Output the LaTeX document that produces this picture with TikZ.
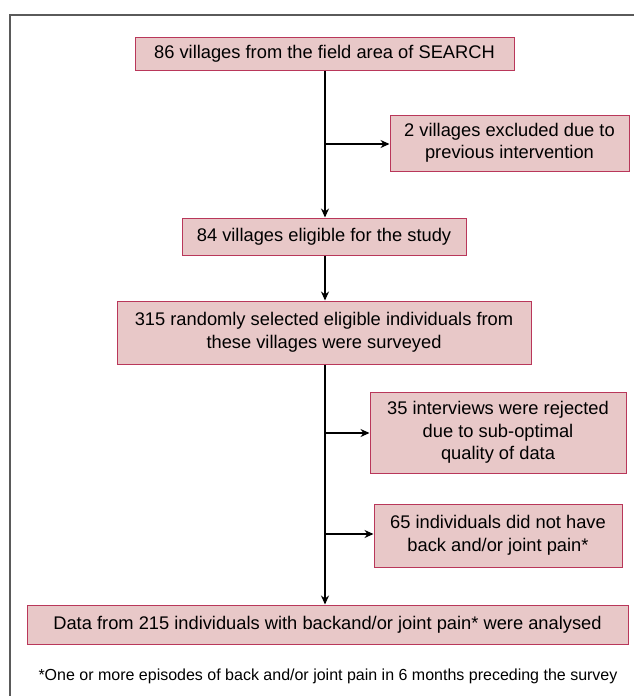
\documentclass[tikz,border=0pt]{standalone}
\usepackage{fontspec}
\setmainfont{Liberation Sans}
\usetikzlibrary{arrows.meta}
\definecolor{boxfill}{RGB}{232,200,200}
\definecolor{boxline}{RGB}{185,55,90}
\definecolor{frameline}{RGB}{90,90,90}

\begin{document}
\begin{tikzpicture}[x=1pt, y=-1pt,
  box/.style={draw=boxline, fill=boxfill, line width=1pt, align=center,
    inner sep=0pt, font=\fontsize{18.3}{22.5}\selectfont},
  flow/.style={line width=1.4pt, -{Stealth[length=9pt,width=8pt]}}]
 \useasboundingbox (0,0) rectangle (634,696);
 \draw[frameline, line width=1.6pt] (10,696) -- (10,15) -- (634,15);
 \node (villages) [box, minimum width=379pt, minimum height=33pt] at (324.5,53.5) {86 villages from the field area of SEARCH};
 \node (excluded) [box, minimum width=239pt, minimum height=56pt] at (509.5,143) {2 villages excluded due to\\previous intervention};
 \node (eligible) [box, minimum width=284pt, minimum height=37pt] at (324,236.5) {84 villages eligible for the study};
 \node (surveyed) [box, minimum width=414pt, minimum height=63pt] at (324,332.5) {315 randomly selected eligible individuals from\\these villages were surveyed};
 \node (rejected) [box, minimum width=256pt, minimum height=81pt] at (498,432.5) {35 interviews were rejected\\due to sub-optimal\\quality of data};
 \node (nopain) [box, minimum width=248pt, minimum height=63pt] at (498,535.5) {65 individuals did not have\\back and/or joint pain*};
 \node (analysed) [box, minimum width=601pt, minimum height=39pt] at (327.5,624.5) {Data from 215 individuals with backand/or joint pain* were analysed};
 \node (note) [font=\fontsize{16}{18}\selectfont] at (328,676) {*One or more episodes of back and/or joint pain in 6 months preceding the survey};
 \coordinate (b1) at (325,144);
 \coordinate (b2) at (325,433);
 \coordinate (b3) at (325,534);
 \draw[flow] (villages.south -| b1) -- (eligible.north -| b1);
 \draw[flow] (b1) -- (b1 -| excluded.west);
 \draw[flow] (eligible.south -| b1) -- (surveyed.north -| b1);
 \draw[flow] (surveyed.south -| b1) -- (analysed.north -| b1);
 \draw[flow] (b2) -- (b2 -| rejected.west);
 \draw[flow] (b3) -- (b3 -| nopain.west);
\end{tikzpicture}
\end{document}
